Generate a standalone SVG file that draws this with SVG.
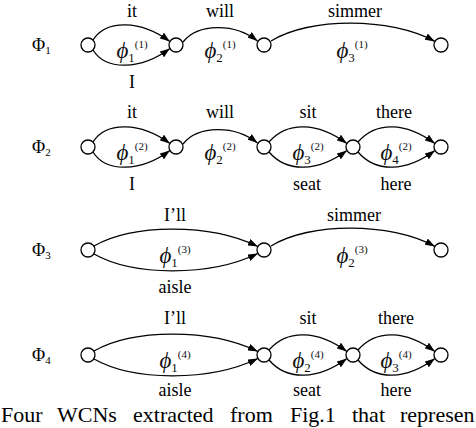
<svg xmlns="http://www.w3.org/2000/svg" width="476" height="428" viewBox="0 0 476 428">
<style>
.node circle{fill:#fff;stroke:#000;stroke-width:1.3}
.edge{fill:none;stroke:#000;stroke-width:1.3;marker-end:url(#arr)}
.lbl{font-family:"Liberation Serif","Times New Roman",serif;font-size:18px;text-anchor:middle;fill:#000}
.phi{font-family:"Liberation Serif","Times New Roman",serif;font-size:23px;font-style:italic;text-anchor:middle;fill:#111}
.sub{font-size:13px;font-style:normal}
.sup{font-size:11px;font-style:normal}
.row{font-family:"Liberation Serif","Times New Roman",serif;font-size:18px;fill:#000}
.rsub{font-size:11px}
.cap{font-family:"Liberation Serif","Times New Roman",serif;font-size:22px;fill:#000}
</style>
<defs>
<marker id="arr" markerUnits="userSpaceOnUse" markerWidth="10" markerHeight="7" viewBox="0 0 10 7" refX="10" refY="3.5" orient="auto">
<path d="M0,0 L10,3.5 L0,7 z" fill="#000"/>
</marker>
</defs>

<g id="connectors">
<path class="edge" d="M93,40 C106,19 141,20 169.9,41.5"/>
<path class="edge" d="M93,50 C106,71 141,70 169.9,48.5"/>
<path class="edge" d="M183,42 C198,23 235,23 257.5,41"/>
<path class="edge" d="M271,41 C310,17 390,17 434.9,41.4"/>

<path class="edge" d="M93,142 C106,121 141,122 169.9,143.5"/>
<path class="edge" d="M93,152 C106,173 141,172 169.9,150.5"/>
<path class="edge" d="M183,144 C198,125 235,125 257.5,143"/>
<path class="edge" d="M269,142 C287,121 318,122 346.9,143.5"/>
<path class="edge" d="M269,152 C287,173 318,172 346.9,150.5"/>
<path class="edge" d="M358,142 C376,121 406,122 434.9,143.5"/>
<path class="edge" d="M358,152 C376,173 406,172 434.9,150.5"/>

<path class="edge" d="M94,246 C133,224 209,223 257.9,246.5"/>
<path class="edge" d="M94,254 C133,276 209,277 257.9,253.5"/>
<path class="edge" d="M271,246 C310,222 390,222 434.9,246.4"/>

<path class="edge" d="M94,351 C133,329 209,328 257.9,351.5"/>
<path class="edge" d="M94,359 C133,381 209,382 257.9,358.5"/>
<path class="edge" d="M269,350 C287,329 318,330 346.9,351.5"/>
<path class="edge" d="M269,360 C287,381 318,380 346.9,358.5"/>
<path class="edge" d="M358,350 C376,329 406,330 434.9,351.5"/>
<path class="edge" d="M358,360 C376,381 406,380 434.9,358.5"/>
</g>

<g id="n1a" class="node"><circle cx="88" cy="45" r="7"/></g>
<g id="n1b" class="node"><circle cx="176" cy="45" r="7"/></g>
<g id="n1c" class="node"><circle cx="264" cy="45" r="7"/></g>
<g id="n1d" class="node"><circle cx="441" cy="45" r="7"/></g>

<g id="n2a" class="node"><circle cx="88" cy="147" r="7"/></g>
<g id="n2b" class="node"><circle cx="176" cy="147" r="7"/></g>
<g id="n2c" class="node"><circle cx="264" cy="147" r="7"/></g>
<g id="n2d" class="node"><circle cx="353" cy="147" r="7"/></g>
<g id="n2e" class="node"><circle cx="441" cy="147" r="7"/></g>

<g id="n3a" class="node"><circle cx="88" cy="250" r="7"/></g>
<g id="n3b" class="node"><circle cx="264" cy="250" r="7"/></g>
<g id="n3c" class="node"><circle cx="441" cy="250" r="7"/></g>

<g id="n4a" class="node"><circle cx="88" cy="355" r="7"/></g>
<g id="n4b" class="node"><circle cx="264" cy="355" r="7"/></g>
<g id="n4c" class="node"><circle cx="353" cy="355" r="7"/></g>
<g id="n4d" class="node"><circle cx="441" cy="355" r="7"/></g>

<g id="row-labels">
<text class="row" x="32" y="51">Φ<tspan class="rsub" dy="3">1</tspan></text>
<text class="row" x="32" y="153">Φ<tspan class="rsub" dy="3">2</tspan></text>
<text class="row" x="32" y="256">Φ<tspan class="rsub" dy="3">3</tspan></text>
<text class="row" x="32" y="361">Φ<tspan class="rsub" dy="3">4</tspan></text>
</g>

<g id="word-labels">
<text class="lbl" x="132" y="17">it</text>
<text class="lbl" x="220" y="17">will</text>
<text class="lbl" x="355" y="17">simmer</text>
<text class="lbl" x="132" y="88">I</text>

<text class="lbl" x="132" y="118">it</text>
<text class="lbl" x="220" y="118">will</text>
<text class="lbl" x="308" y="118">sit</text>
<text class="lbl" x="394" y="118">there</text>
<text class="lbl" x="132" y="190">I</text>
<text class="lbl" x="307" y="190">seat</text>
<text class="lbl" x="396" y="190">here</text>

<text class="lbl" x="175" y="221">I’ll</text>
<text class="lbl" x="354" y="221">simmer</text>
<text class="lbl" x="175" y="293">aisle</text>

<text class="lbl" x="175" y="324">I’ll</text>
<text class="lbl" x="308" y="324">sit</text>
<text class="lbl" x="396" y="324">there</text>
<text class="lbl" x="175" y="396">aisle</text>
<text class="lbl" x="307" y="396">seat</text>
<text class="lbl" x="396" y="396">here</text>
</g>

<g id="phi-labels">
<text class="phi" x="132" y="58">ϕ<tspan class="sub" dy="4">1</tspan><tspan class="sup" dy="-14">(1)</tspan></text>
<text class="phi" x="220" y="58">ϕ<tspan class="sub" dy="4">2</tspan><tspan class="sup" dy="-14">(1)</tspan></text>
<text class="phi" x="352" y="58">ϕ<tspan class="sub" dy="4">3</tspan><tspan class="sup" dy="-14">(1)</tspan></text>

<text class="phi" x="132" y="160">ϕ<tspan class="sub" dy="4">1</tspan><tspan class="sup" dy="-14">(2)</tspan></text>
<text class="phi" x="220" y="160">ϕ<tspan class="sub" dy="4">2</tspan><tspan class="sup" dy="-14">(2)</tspan></text>
<text class="phi" x="308" y="160">ϕ<tspan class="sub" dy="4">3</tspan><tspan class="sup" dy="-14">(2)</tspan></text>
<text class="phi" x="396" y="160">ϕ<tspan class="sub" dy="4">4</tspan><tspan class="sup" dy="-14">(2)</tspan></text>

<text class="phi" x="175" y="263">ϕ<tspan class="sub" dy="4">1</tspan><tspan class="sup" dy="-14">(3)</tspan></text>
<text class="phi" x="352" y="263">ϕ<tspan class="sub" dy="4">2</tspan><tspan class="sup" dy="-14">(3)</tspan></text>

<text class="phi" x="175" y="368">ϕ<tspan class="sub" dy="4">1</tspan><tspan class="sup" dy="-14">(4)</tspan></text>
<text class="phi" x="308" y="368">ϕ<tspan class="sub" dy="4">2</tspan><tspan class="sup" dy="-14">(4)</tspan></text>
<text class="phi" x="396" y="368">ϕ<tspan class="sub" dy="4">3</tspan><tspan class="sup" dy="-14">(4)</tspan></text>
</g>

<g id="caption">
<text class="cap" y="422"><tspan x="1">Four</tspan><tspan x="57">WCNs</tspan><tspan x="133">extracted</tspan><tspan x="230">from</tspan><tspan x="290">Fig.1</tspan><tspan x="352">that</tspan><tspan x="400">represen</tspan></text>
</g>
</svg>
